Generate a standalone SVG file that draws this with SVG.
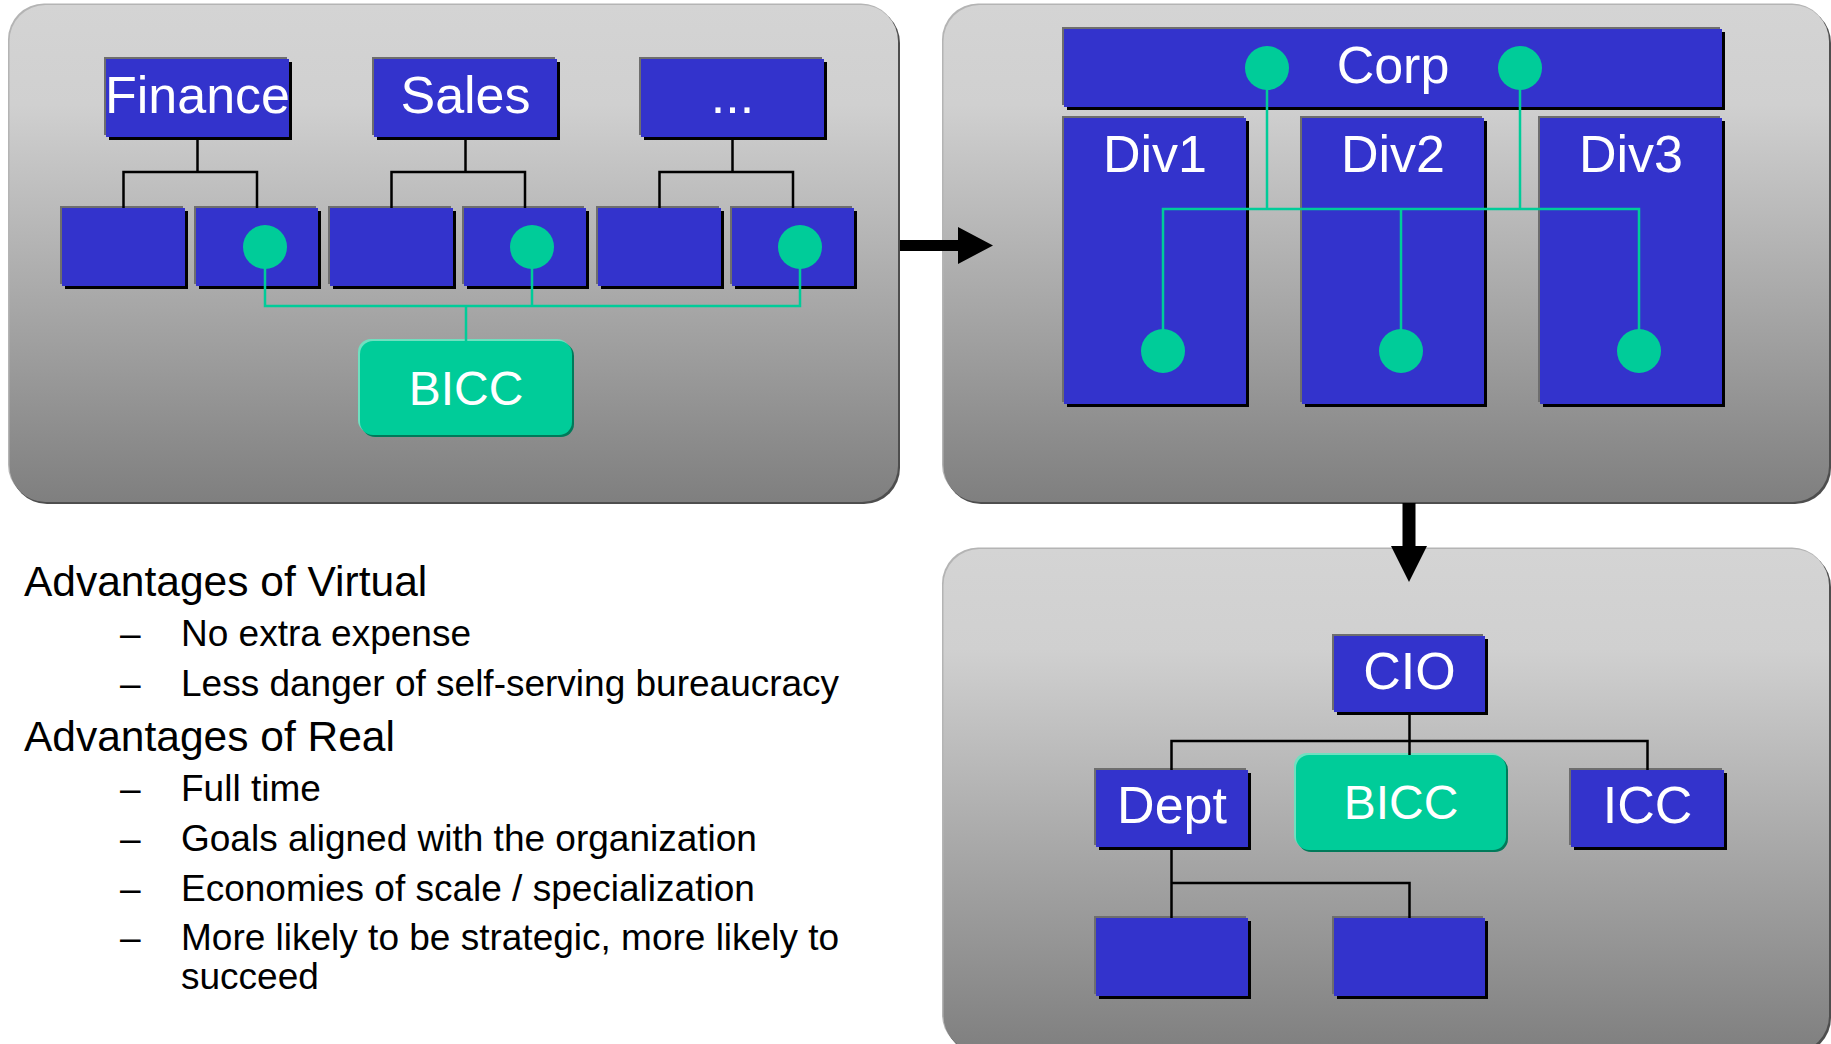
<svg xmlns="http://www.w3.org/2000/svg" width="1831" height="1044" viewBox="0 0 1831 1044">
  <defs>
    <linearGradient id="pg" x1="0" y1="0" x2="0" y2="1">
      <stop offset="0" stop-color="#d4d4d4"/>
      <stop offset="0.2" stop-color="#d0d0d0"/>
      <stop offset="1" stop-color="#7f7f7f"/>
    </linearGradient>
    <style>
      .pl { fill: #b4b4b4; }
      .pd { fill: #4e4e4e; }
      .pf { fill: url(#pg); }
      .sh { fill: #000; }
      .edge { fill: #6e6e6e; }
      .blue { fill: #3333cc; }
      .gsh { fill: #007a5a; }
      .gedge { fill: #6fe0c0; }
      .green { fill: #00cc99; }
      .lbl { font-family: "Liberation Sans", Arial, sans-serif; fill: #fff; text-anchor: middle; font-size: 52px; }
      .lbl2 { font-size: 48px; }
      .ln { stroke: #000; stroke-width: 2.5; fill: none; }
      .gl { stroke: #00cc99; stroke-width: 2.5; fill: none; }
      .dot { fill: #00cc99; }
      .arrow { fill: #000; }
      .h { font-family: "Liberation Sans", Arial, sans-serif; fill: #000; font-size: 42.5px; }
      .b { font-family: "Liberation Sans", Arial, sans-serif; fill: #000; font-size: 37px; }
    </style>
  </defs>

  <!-- background panels: light top/left rim, dark bottom/right rim, gradient face -->
  <g id="panels">
    <g id="panel-virtual">
      <rect class="pl" x="8" y="3.5" width="889" height="497" rx="36"/>
      <rect class="pd" x="11" y="7" width="889" height="497" rx="36"/>
      <rect class="pf" x="9.5" y="5" width="888.5" height="497" rx="36"/>
    </g>
    <g id="panel-divisional">
      <rect class="pl" x="942" y="3.5" width="886" height="497" rx="36"/>
      <rect class="pd" x="945" y="7" width="886" height="497" rx="36"/>
      <rect class="pf" x="943.5" y="5" width="885.5" height="497" rx="36"/>
    </g>
    <g id="panel-real">
      <rect class="pl" x="942" y="547.5" width="886" height="503" rx="36"/>
      <rect class="pd" x="945" y="551" width="886" height="503" rx="36"/>
      <rect class="pf" x="943.5" y="549" width="885.5" height="503" rx="36"/>
    </g>
  </g>

  <!-- panel 1: functional units -->
  <g id="finance">
    <rect class="edge" x="104" y="57" width="183" height="78"/>
    <rect class="sh" x="109" y="62" width="183" height="78"/>
    <rect class="blue" x="106" y="59" width="183" height="78"/>
    <text class="lbl" x="197.5" y="113">Finance</text>
  </g>
  <g id="sales">
    <rect class="edge" x="372" y="57" width="183" height="78"/>
    <rect class="sh" x="377" y="62" width="183" height="78"/>
    <rect class="blue" x="374" y="59" width="183" height="78"/>
    <text class="lbl" x="465.5" y="113">Sales</text>
  </g>
  <g id="more">
    <rect class="edge" x="639" y="57" width="183" height="78"/>
    <rect class="sh" x="644" y="62" width="183" height="78"/>
    <rect class="blue" x="641" y="59" width="183" height="78"/>
    <text class="lbl" x="732.5" y="113">...</text>
  </g>
  <g id="unit1">
    <rect class="edge" x="60" y="206" width="123" height="78"/>
    <rect class="sh" x="65" y="211" width="123" height="78"/>
    <rect class="blue" x="62" y="208" width="123" height="78"/>
  </g>
  <g id="unit2">
    <rect class="edge" x="194" y="206" width="122" height="78"/>
    <rect class="sh" x="199" y="211" width="122" height="78"/>
    <rect class="blue" x="196" y="208" width="122" height="78"/>
  </g>
  <g id="unit3">
    <rect class="edge" x="328" y="206" width="123" height="78"/>
    <rect class="sh" x="333" y="211" width="123" height="78"/>
    <rect class="blue" x="330" y="208" width="123" height="78"/>
  </g>
  <g id="unit4">
    <rect class="edge" x="462" y="206" width="122" height="78"/>
    <rect class="sh" x="467" y="211" width="122" height="78"/>
    <rect class="blue" x="464" y="208" width="122" height="78"/>
  </g>
  <g id="unit5">
    <rect class="edge" x="596" y="206" width="123" height="78"/>
    <rect class="sh" x="601" y="211" width="123" height="78"/>
    <rect class="blue" x="598" y="208" width="123" height="78"/>
  </g>
  <g id="unit6">
    <rect class="edge" x="730" y="206" width="122" height="78"/>
    <rect class="sh" x="735" y="211" width="122" height="78"/>
    <rect class="blue" x="732" y="208" width="122" height="78"/>
  </g>
  <g id="bicc-virtual">
    <rect class="gedge" x="358" y="339" width="212" height="94" rx="13"/>
    <rect class="gsh" x="362" y="343" width="212" height="94" rx="13"/>
    <rect class="green" x="360" y="341" width="212" height="94" rx="13"/>
    <text class="lbl lbl2" x="466" y="405">BICC</text>
  </g>

  <!-- panel 2: corporate / divisions -->
  <g id="corp">
    <rect class="edge" x="1062" y="27" width="658" height="78"/>
    <rect class="sh" x="1067" y="32" width="658" height="78"/>
    <rect class="blue" x="1064" y="29" width="658" height="78"/>
    <text class="lbl" x="1393" y="83">Corp</text>
  </g>
  <g id="div1">
    <rect class="edge" x="1062" y="116" width="182" height="286"/>
    <rect class="sh" x="1067" y="121" width="182" height="286"/>
    <rect class="blue" x="1064" y="118" width="182" height="286"/>
    <text class="lbl" x="1155" y="172">Div1</text>
  </g>
  <g id="div2">
    <rect class="edge" x="1300" y="116" width="182" height="286"/>
    <rect class="sh" x="1305" y="121" width="182" height="286"/>
    <rect class="blue" x="1302" y="118" width="182" height="286"/>
    <text class="lbl" x="1393" y="172">Div2</text>
  </g>
  <g id="div3">
    <rect class="edge" x="1538" y="116" width="182" height="286"/>
    <rect class="sh" x="1543" y="121" width="182" height="286"/>
    <rect class="blue" x="1540" y="118" width="182" height="286"/>
    <text class="lbl" x="1631" y="172">Div3</text>
  </g>

  <!-- panel 3: CIO organisation -->
  <g id="cio">
    <rect class="edge" x="1332" y="634" width="151" height="76"/>
    <rect class="sh" x="1337" y="639" width="151" height="76"/>
    <rect class="blue" x="1334" y="636" width="151" height="76"/>
    <text class="lbl" x="1409.5" y="689">CIO</text>
  </g>
  <g id="dept">
    <rect class="edge" x="1094" y="768" width="152" height="77"/>
    <rect class="sh" x="1099" y="773" width="152" height="77"/>
    <rect class="blue" x="1096" y="770" width="152" height="77"/>
    <text class="lbl" x="1172" y="823">Dept</text>
  </g>
  <g id="bicc-real">
    <rect class="gedge" x="1294" y="753" width="210" height="95" rx="13"/>
    <rect class="gsh" x="1298" y="757" width="210" height="95" rx="13"/>
    <rect class="green" x="1296" y="755" width="210" height="95" rx="13"/>
    <text class="lbl lbl2" x="1401" y="819">BICC</text>
  </g>
  <g id="icc">
    <rect class="edge" x="1569" y="768" width="153" height="77"/>
    <rect class="sh" x="1574" y="773" width="153" height="77"/>
    <rect class="blue" x="1571" y="770" width="153" height="77"/>
    <text class="lbl" x="1647.5" y="823">ICC</text>
  </g>
  <g id="sub1">
    <rect class="edge" x="1094" y="916" width="152" height="78"/>
    <rect class="sh" x="1099" y="921" width="152" height="78"/>
    <rect class="blue" x="1096" y="918" width="152" height="78"/>
  </g>
  <g id="sub2">
    <rect class="edge" x="1332" y="916" width="151" height="78"/>
    <rect class="sh" x="1337" y="921" width="151" height="78"/>
    <rect class="blue" x="1334" y="918" width="151" height="78"/>
  </g>

  <!-- connectors -->
  <g id="connectors">
    <!-- reporting lines -->
    <path class="ln" d="M197.5 137 V172 M123.5 208 V172 H257 V208"/>
    <path class="ln" d="M465.5 137 V172 M391.5 208 V172 H525 V208"/>
    <path class="ln" d="M732.5 137 V172 M659.5 208 V172 H793 V208"/>
    <path class="ln" d="M1409.5 712 V741 M1171.5 770 V741 H1647.5 V770 M1409.5 741 V755"/>
    <path class="ln" d="M1171.5 847 V918 M1171.5 883 H1409.5 V918"/>
    <!-- BI competency links -->
    <path class="gl" d="M265 247 V306 H800 V247 M532 247 V306 M466 306 V341"/>
    <path class="gl" d="M1267 68 V209 M1520 68 V209 M1163 351 V209 H1639 V351 M1401 209 V351"/>
    <!-- flow arrows between panels -->
    <path class="arrow" d="M900 240 H958 V227 L993 245.5 L958 264 V251 H900 Z"/>
    <path class="arrow" d="M1402.5 503 H1415.5 V546 H1427 L1409 582 L1391 546 H1402.5 Z"/>
  </g>

  <!-- BI competency members -->
  <g id="members">
    <circle class="dot" cx="265" cy="247" r="22"/>
    <circle class="dot" cx="532" cy="247" r="22"/>
    <circle class="dot" cx="800" cy="247" r="22"/>
    <circle class="dot" cx="1267" cy="68" r="22"/>
    <circle class="dot" cx="1520" cy="68" r="22"/>
    <circle class="dot" cx="1163" cy="351" r="22"/>
    <circle class="dot" cx="1401" cy="351" r="22"/>
    <circle class="dot" cx="1639" cy="351" r="22"/>
  </g>

  <!-- advantages list -->
  <g id="notes">
    <text class="h" x="24" y="596">Advantages of Virtual</text>
    <text class="b" x="120" y="646">–</text>
    <text class="b" x="181" y="646">No extra expense</text>
    <text class="b" x="120" y="696">–</text>
    <text class="b" x="181" y="696">Less danger of self-serving bureaucracy</text>
    <text class="h" x="24" y="751">Advantages of Real</text>
    <text class="b" x="120" y="801">–</text>
    <text class="b" x="181" y="801">Full time</text>
    <text class="b" x="120" y="851">–</text>
    <text class="b" x="181" y="851">Goals aligned with the organization</text>
    <text class="b" x="120" y="901">–</text>
    <text class="b" x="181" y="901">Economies of scale / specialization</text>
    <text class="b" x="120" y="950">–</text>
    <text class="b" x="181" y="950">More likely to be strategic, more likely to</text>
    <text class="b" x="181" y="989">succeed</text>
  </g>
</svg>
